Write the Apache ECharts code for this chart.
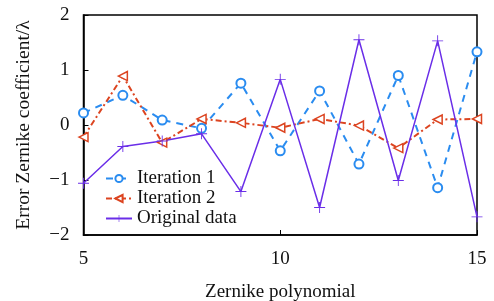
<!DOCTYPE html>
<html>
<head>
<meta charset="utf-8">
<script src="https://cdn.jsdelivr.net/npm/echarts@6/dist/echarts.min.js"></script>
<style>
html, body { margin: 0; padding: 0; background: #fff; }
#chart { width: 494px; height: 301px; }
</style>
</head>
<body>
<div id="chart"></div>
<script>
let xValues = [5, 6, 7, 8, 9, 10, 11, 12, 13, 14, 15];
let iter1 = [0.22, 0.54, 0.09, -0.06, 0.76, -0.47, 0.62, -0.71, 0.90, -1.14, 1.33];
let iter2 = [-0.22, 0.89, -0.32, 0.11, 0.04, -0.05, 0.11, -0.01, -0.42, 0.10, 0.11];
let original = [-1.06, -0.39, -0.29, -0.16, -1.21, 0.83, -1.50, 1.55, -1.01, 1.53, -1.67];

const FONT = 'Liberation Serif';
const PLUS = 'path://M-0.08,-1H0.08V-0.08H1V0.08H0.08V1H-0.08V0.08H-1V-0.08H-0.08Z';

function pairs(ys) {
    return xValues.map((x, i) => [x, ys[i]]);
}

let chart = echarts.init(document.getElementById('chart'), null, {renderer: 'canvas'});

chart.setOption({
    animation: false,
    textStyle: {fontFamily: FONT},
    grid: {left: 83.5, right: 17, top: 15, bottom: 66, outerBoundsMode: 'none', containLabel: false,
        show: true, borderColor: '#000', borderWidth: 1.5},
    legend: {
        left: 100, top: 164, orient: 'vertical', itemGap: 1,
        itemWidth: 26, itemHeight: 9,
        textStyle: {fontFamily: FONT, fontSize: 19, color: '#111'},
        data: ['Iteration 1', 'Iteration 2', 'Original data']
    },
    xAxis: {
        type: 'value', min: 5, max: 15, interval: 5,
        name: 'Zernike polynomial', nameLocation: 'middle', nameGap: 48,
        nameTextStyle: {fontFamily: FONT, fontSize: 19, color: '#111'},
        axisLine: {onZero: false, lineStyle: {color: '#000', width: 1.5}},
        axisTick: {inside: true, length: 5, lineStyle: {color: '#000'}},
        axisLabel: {fontFamily: FONT, fontSize: 19, color: '#111', margin: 15},
        splitLine: {show: false}
    },
    yAxis: {
        type: 'value', min: -2, max: 2, interval: 1,
        name: 'Error Zernike coefficient/λ', nameLocation: 'middle', nameGap: 50,
        nameTextStyle: {fontFamily: FONT, fontSize: 19.5, color: '#111'},
        axisLine: {show: true, onZero: false, lineStyle: {color: '#000', width: 1.5}},
        axisTick: {show: true, inside: true, length: 5, lineStyle: {color: '#000'}},
        axisLabel: {fontFamily: FONT, fontSize: 19, color: '#111', margin: 14,
            formatter: v => (v < 0 ? '\u2212' + (-v) : '' + v)},
        splitLine: {show: false}
    },
    series: [
        {
            name: 'Iteration 1', type: 'line', data: pairs(iter1),
            symbol: 'emptyCircle', symbolSize: 9,
            lineStyle: {color: '#2a8cf0', width: 2, type: [7, 6]},
            itemStyle: {color: '#2a8cf0', borderWidth: 1.5}
        },
        {
            name: 'Iteration 2', type: 'line', data: pairs(iter2),
            symbol: 'triangle', symbolRotate: 90, symbolSize: 9,
            lineStyle: {color: '#dc4420', width: 2, type: [6, 3, 2, 3]},
            itemStyle: {color: '#fff', borderColor: '#dc4420', borderWidth: 1.5}
        },
        {
            name: 'Original data', type: 'line', data: pairs(original),
            symbol: PLUS, symbolSize: 11,
            lineStyle: {color: '#6a2ee8', width: 1.5},
            itemStyle: {color: '#6a2ee8'}
        }
    ]
});
</script>
</body>
</html>
